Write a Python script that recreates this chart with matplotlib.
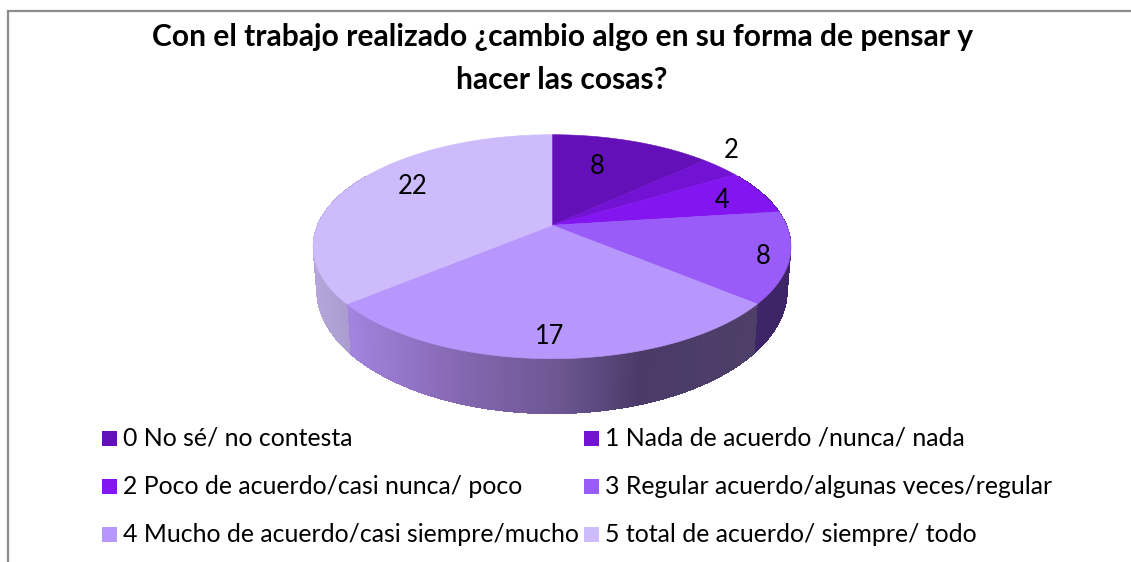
import numpy as np
import matplotlib
matplotlib.use("Agg")
import matplotlib.pyplot as plt
from matplotlib.patches import Rectangle
from matplotlib.colors import to_rgb

title_lines = ["Con el trabajo realizado ¿cambio algo en su forma de pensar y",
               "hacer las cosas?"]
categories = ["0 No sé/ no contesta",
              "1 Nada de acuerdo /nunca/ nada",
              "2 Poco de acuerdo/casi nunca/ poco",
              "3 Regular acuerdo/algunas veces/regular",
              "4 Mucho de acuerdo/casi siempre/mucho",
              "5 total de acuerdo/ siempre/ todo"]
values = [8, 2, 4, 8, 17, 22]
colors = ["#6410B8", "#7212D2", "#8315F0", "#9A5CF9", "#B897FC", "#CDBBFC"]

# layout in pixels
W, H = 1131, 562
CX = 552
K = 0.191
TOP_A, TOP_B, TOP_Y = 234.6, 107.9, 225.3
BOT_A, BOT_B, BOT_Y = 231.0, 119.0, 266.6
LABEL_XY = [(597, 166), (731, 150), (722, 200), (763, 257), (550, 336), (413, 186)]
LEG_X = [102, 584]
LEG_Y = [438, 486, 534]
LEG_S = 15
FS_LEGEND = 17.9
FS_LABEL = 18.4
FS_TITLE = 21.6
FONT = "Lato"


def top(theta):
    t = np.radians(theta)
    u, v = np.sin(t), np.cos(t)
    w = 1 + K * v
    return CX + TOP_A * u / w, TOP_Y - TOP_B * v / w


def bottom(theta):
    t = np.radians(theta)
    u, v = np.sin(t), np.cos(t)
    w = 1 + K * v
    return CX + BOT_A * u / w, BOT_Y - BOT_B * v / w


def mix(stops, x):
    xs = [s[0] for s in stops]
    rgb = np.array([to_rgb(s[1]) for s in stops])
    return tuple(np.interp(x, xs, rgb[:, i]) for i in range(3))


side_stops = {
    3: [(700, "#3E2568"), (800, "#3E2568")],
    4: [(350, "#A283DE"), (450, "#8769B4"), (560, "#6C5792"), (640, "#4B3A68"), (760, "#4E3F68")],
    5: [(310, "#B5A6DB"), (352, "#AA9BCF")],
}
DEFAULT_SIDE = [(0, "#3E2568"), (2000, "#3E2568")]

fig = plt.figure(figsize=(W / 100, H / 100), dpi=100)
ax = fig.add_axes([0, 0, 1, 1])
ax.set_xlim(0, W)
ax.set_ylim(H, 0)
ax.axis("off")

ax.plot([8, 8, W], [H, 11, 11], color="#8C8C8C", lw=1.6, solid_joinstyle="miter", zorder=1)

edges = 360 * np.cumsum([0] + values) / sum(values)

# side wall: one solid polygon per slice first, then overlapping colour bands
for i, c in enumerate(colors):
    a0, a1 = edges[i], edges[i + 1]
    lo, hi = max(a0, 60), min(a1, 300)
    if hi <= lo:
        continue
    th = np.arange(lo, hi + 0.5, 0.75)
    th = np.append(th[th < hi], hi)
    for t0, t1 in zip(th[:-1], th[1:]):
        # each band reaches past its neighbour so no seam shows between them
        t2 = min(t1 + 1.0, hi)
        x0, y0 = top(t0)
        x1, y1 = top(t2)
        x2, y2 = bottom(t2)
        x3, y3 = bottom(t0)
        col = mix(side_stops.get(i, DEFAULT_SIDE), (x0 + top(t1)[0]) / 2)
        ax.fill([x0, x1, x2, x3], [y0, y1, y2, y3], facecolor=col, edgecolor="none",
                antialiased=False, zorder=2)

# top face
for i, c in enumerate(colors):
    th = np.linspace(edges[i], edges[i + 1], 120)
    x, y = top(th)
    ax.fill(np.r_[CX, x], np.r_[TOP_Y, y], color=c, lw=0.4, zorder=3)

# data labels
for v, (x, y) in zip(values, LABEL_XY):
    ax.text(x, y, str(v), ha="center", va="center", fontsize=FS_LABEL, family=FONT,
            color="black", zorder=4)

# legend
for i, (lab, c) in enumerate(zip(categories, colors)):
    lx = LEG_X[i % 2]
    ly = LEG_Y[i // 2]
    ax.add_patch(Rectangle((lx, ly - LEG_S / 2), LEG_S, LEG_S, facecolor=c, edgecolor="none", zorder=4))
    ax.text(lx + 21, ly, lab, ha="left", va="center", fontsize=FS_LEGEND, family=FONT,
            color="black", zorder=4)

# title
ax.text(563, 37, title_lines[0], ha="center", va="center", fontsize=FS_TITLE, family=FONT,
        weight="bold", color="black", zorder=4)
ax.text(562, 80, title_lines[1], ha="center", va="center", fontsize=FS_TITLE, family=FONT,
        weight="bold", color="black", zorder=4)

fig.savefig("out.png", dpi=100, facecolor="white")
